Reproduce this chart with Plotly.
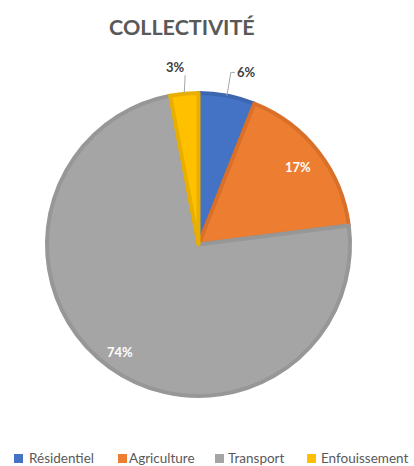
import math
import plotly.graph_objects as go

# Émissions de la collectivité par secteur (%)
categories = ["Résidentiel", "Agriculture", "Transport", "Enfouissement"]
values = [6, 17, 74, 3]

fill_colors = ["#4472C4", "#ED7D31", "#A5A5A5", "#FFC000"]
edge_colors = ["#3C66B0", "#D9702A", "#979797", "#E9AF00"]

W, H = 414, 466
CX, CY, R = 198.5, 244.5, 151.5  # pie centre and radius in pixels


def px(x):
    return x / W


def py(y):
    return 1 - y / H


fig = go.Figure(
    go.Pie(
        labels=categories,
        values=values,
        sort=False,
        direction="clockwise",
        rotation=0,
        textinfo="none",
        hoverinfo="skip",
        marker=dict(colors=fill_colors, line=dict(color=edge_colors, width=4)),
        domain=dict(x=[px(CX - R), px(CX + R)], y=[py(CY + R), py(CY - R)]),
        showlegend=False,
    )
)

# slice mid-angles (degrees clockwise from 12 o'clock)
total = sum(values)
mids = []
acc = 0
for v in values:
    mids.append((acc + v / 2) / total * 360)
    acc += v


def polar(angle_deg, radius):
    a = math.radians(angle_deg)
    return CX + radius * math.sin(a), CY - radius * math.cos(a)


annotations = []
shapes = []

# label placement: (inside?, radial factor, angular offset)
placement = {
    "Résidentiel": (False, 1.18, 4.9),
    "Agriculture": (True, 0.83, 0.0),
    "Transport": (True, 0.88, 0.0),
    "Enfouissement": (False, 1.18, -2.1),
}

for cat, v, mid in zip(categories, values, mids):
    inside, rf, off = placement[cat]
    lx, ly = polar(mid + off, R * rf)
    annotations.append(
        dict(
            x=px(lx), y=py(ly), xref="paper", yref="paper",
            xanchor="center", yanchor="middle",
            text=f"<b>{v}%</b>", showarrow=False,
            font=dict(family="Lato", size=13,
                      color="#FFFFFF" if inside else "#404040"),
        )
    )
    if not inside:
        ex, ey = polar(mid, R)
        if cat == "Résidentiel":
            path = f"M {px(lx - 12)},{py(ly)} L {px(lx - 16)},{py(ly)} L {px(ex)},{py(ey)}"
        else:
            path = f"M {px(lx + 10)},{py(ly + 8)} L {px(ex)},{py(ey)}"
        shapes.append(dict(type="path", path=path, xref="paper", yref="paper",
                           line=dict(color="#A6A6A6", width=1)))

# title
annotations.append(
    dict(x=px(182), y=py(27), xref="paper", yref="paper",
         xanchor="center", yanchor="middle",
         text="<b>COLLECTIVITÉ</b>", showarrow=False,
         font=dict(family="Lato", size=21.5, color="#595959"))
)

# legend row: square swatch + label
legend_sym_x = [14, 118, 215, 307]
legend_txt_x = [27, 127, 226, 319]
LEG_Y = 458
for cat, col, sx, tx in zip(categories, fill_colors, legend_sym_x, legend_txt_x):
    shapes.append(dict(type="rect", xref="paper", yref="paper",
                       x0=px(sx), x1=px(sx + 9), y0=py(LEG_Y - 4), y1=py(LEG_Y + 5),
                       fillcolor=col, line_width=0))
    annotations.append(
        dict(x=px(tx), y=py(LEG_Y), xref="paper", yref="paper",
             xanchor="left", yanchor="middle", showarrow=False,
             text=cat, font=dict(family="Lato", size=13.5, color="#595959"))
    )

fig.update_layout(
    width=W, height=H,
    margin=dict(l=0, r=0, t=0, b=0),
    paper_bgcolor="#FFFFFF",
    plot_bgcolor="#FFFFFF",
    annotations=annotations,
    shapes=shapes,
)

fig.write_html("out.html")
